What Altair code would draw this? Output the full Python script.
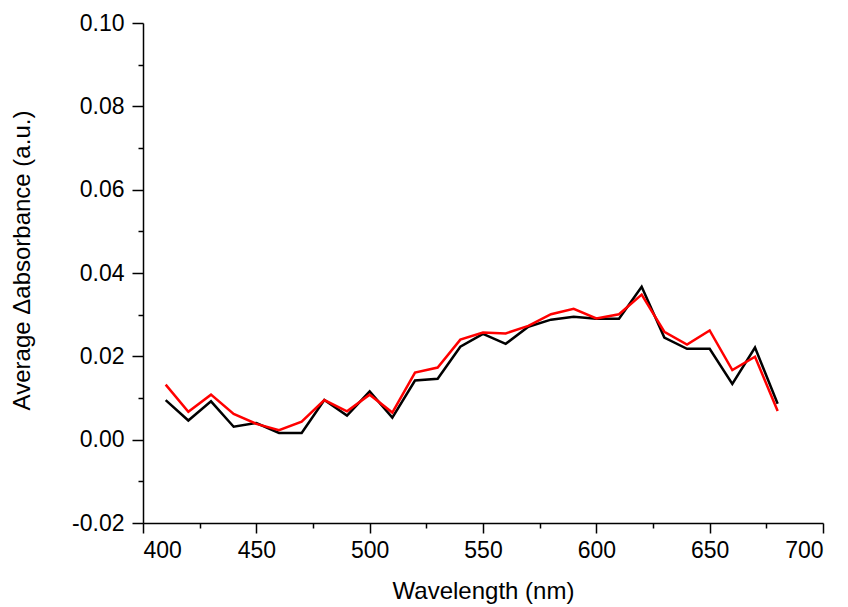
import altair as alt
import pandas as pd

wavelength = [410, 420, 430, 440, 450, 460, 470, 480, 490, 500,
              510, 520, 530, 540, 550, 560, 570, 580, 590, 600,
              610, 620, 630, 640, 650, 660, 670, 680]
series_black = [0.0095, 0.0046, 0.0092, 0.0031, 0.0040, 0.0016, 0.0016, 0.0095, 0.0058, 0.0116,
                0.0053, 0.0142, 0.0146, 0.0223, 0.0254, 0.0230, 0.0271, 0.0288, 0.0295, 0.0290,
                0.0290, 0.0367, 0.0245, 0.0218, 0.0218, 0.0134, 0.0221, 0.0086]
series_red = [0.0132, 0.0067, 0.0108, 0.0062, 0.0038, 0.0023, 0.0043, 0.0095, 0.0068, 0.0108,
              0.0065, 0.0161, 0.0173, 0.0240, 0.0257, 0.0255, 0.0273, 0.0301, 0.0314, 0.0291,
              0.0301, 0.0348, 0.0259, 0.0228, 0.0262, 0.0167, 0.0199, 0.0069]
x_ticks = [400, 425, 450, 475, 500, 525, 550, 575, 600, 625, 650, 675, 700]
y_ticks = [-0.02, -0.01, 0.0, 0.01, 0.02, 0.03, 0.04, 0.05, 0.06, 0.07, 0.08, 0.09, 0.10]

rows = []
for i, w in enumerate(wavelength):
    rows.append({"w": w, "v": series_black[i], "s": "black", "o": 0})
    rows.append({"w": w, "v": series_red[i], "s": "red", "o": 1})
df = pd.DataFrame(rows)

FONT = "Liberation Sans"

x_axis = alt.Axis(
    values=x_ticks,
    labelExpr="datum.value % 50 == 0 ? datum.label : ''",
    tickSize={"condition": {"test": "datum.value % 50 != 0", "value": 5}, "value": 10},
    grid=False,
    title="Wavelength (nm)",
    labelFontSize=23, titleFontSize=24,
    labelPadding=6, titlePadding=17,
    format="d",
)
y_axis = alt.Axis(
    values=y_ticks,
    labelExpr="round(datum.value*100) % 2 == 0 ? replace(format(datum.value, '.2f'), '\u2212', '-') : ''",
    tickSize={"condition": {"test": "abs(round(datum.value*100)) % 2 == 1", "value": 5}, "value": 11},
    grid=False,
    title="Average \u0394absorbance (a.u.)",
    labelFontSize=23, titleFontSize=24,
    labelPadding=8,
    titleX=-109, titleY=237, titleAngle=270, titleAlign="center", titleBaseline="bottom",
)

chart = alt.Chart(df).mark_line(strokeWidth=2.5).encode(
    x=alt.X("w:Q", scale=alt.Scale(domain=[400, 700], nice=False, zero=False), axis=x_axis),
    y=alt.Y("v:Q", scale=alt.Scale(domain=[-0.02, 0.10], nice=False, zero=False), axis=y_axis),
    color=alt.Color("s:N", scale=alt.Scale(domain=["black", "red"], range=["#000000", "#ff0000"]), legend=None),
    order=alt.Order("o:Q"),
).properties(
    width=680, height=500,
    autosize=alt.AutoSizeParams(type="none"),
    padding={"left": 135, "top": 15, "right": 10, "bottom": 84},
).configure_view(stroke=None).configure_axis(
    domainColor="black", domainWidth=1.5, tickColor="black", tickWidth=1.5,
    labelColor="black", titleColor="black", labelFont=FONT, titleFont=FONT,
    titleFontWeight="normal",
)

chart.save("out.html", embed_options={"renderer": "svg", "actions": False})
